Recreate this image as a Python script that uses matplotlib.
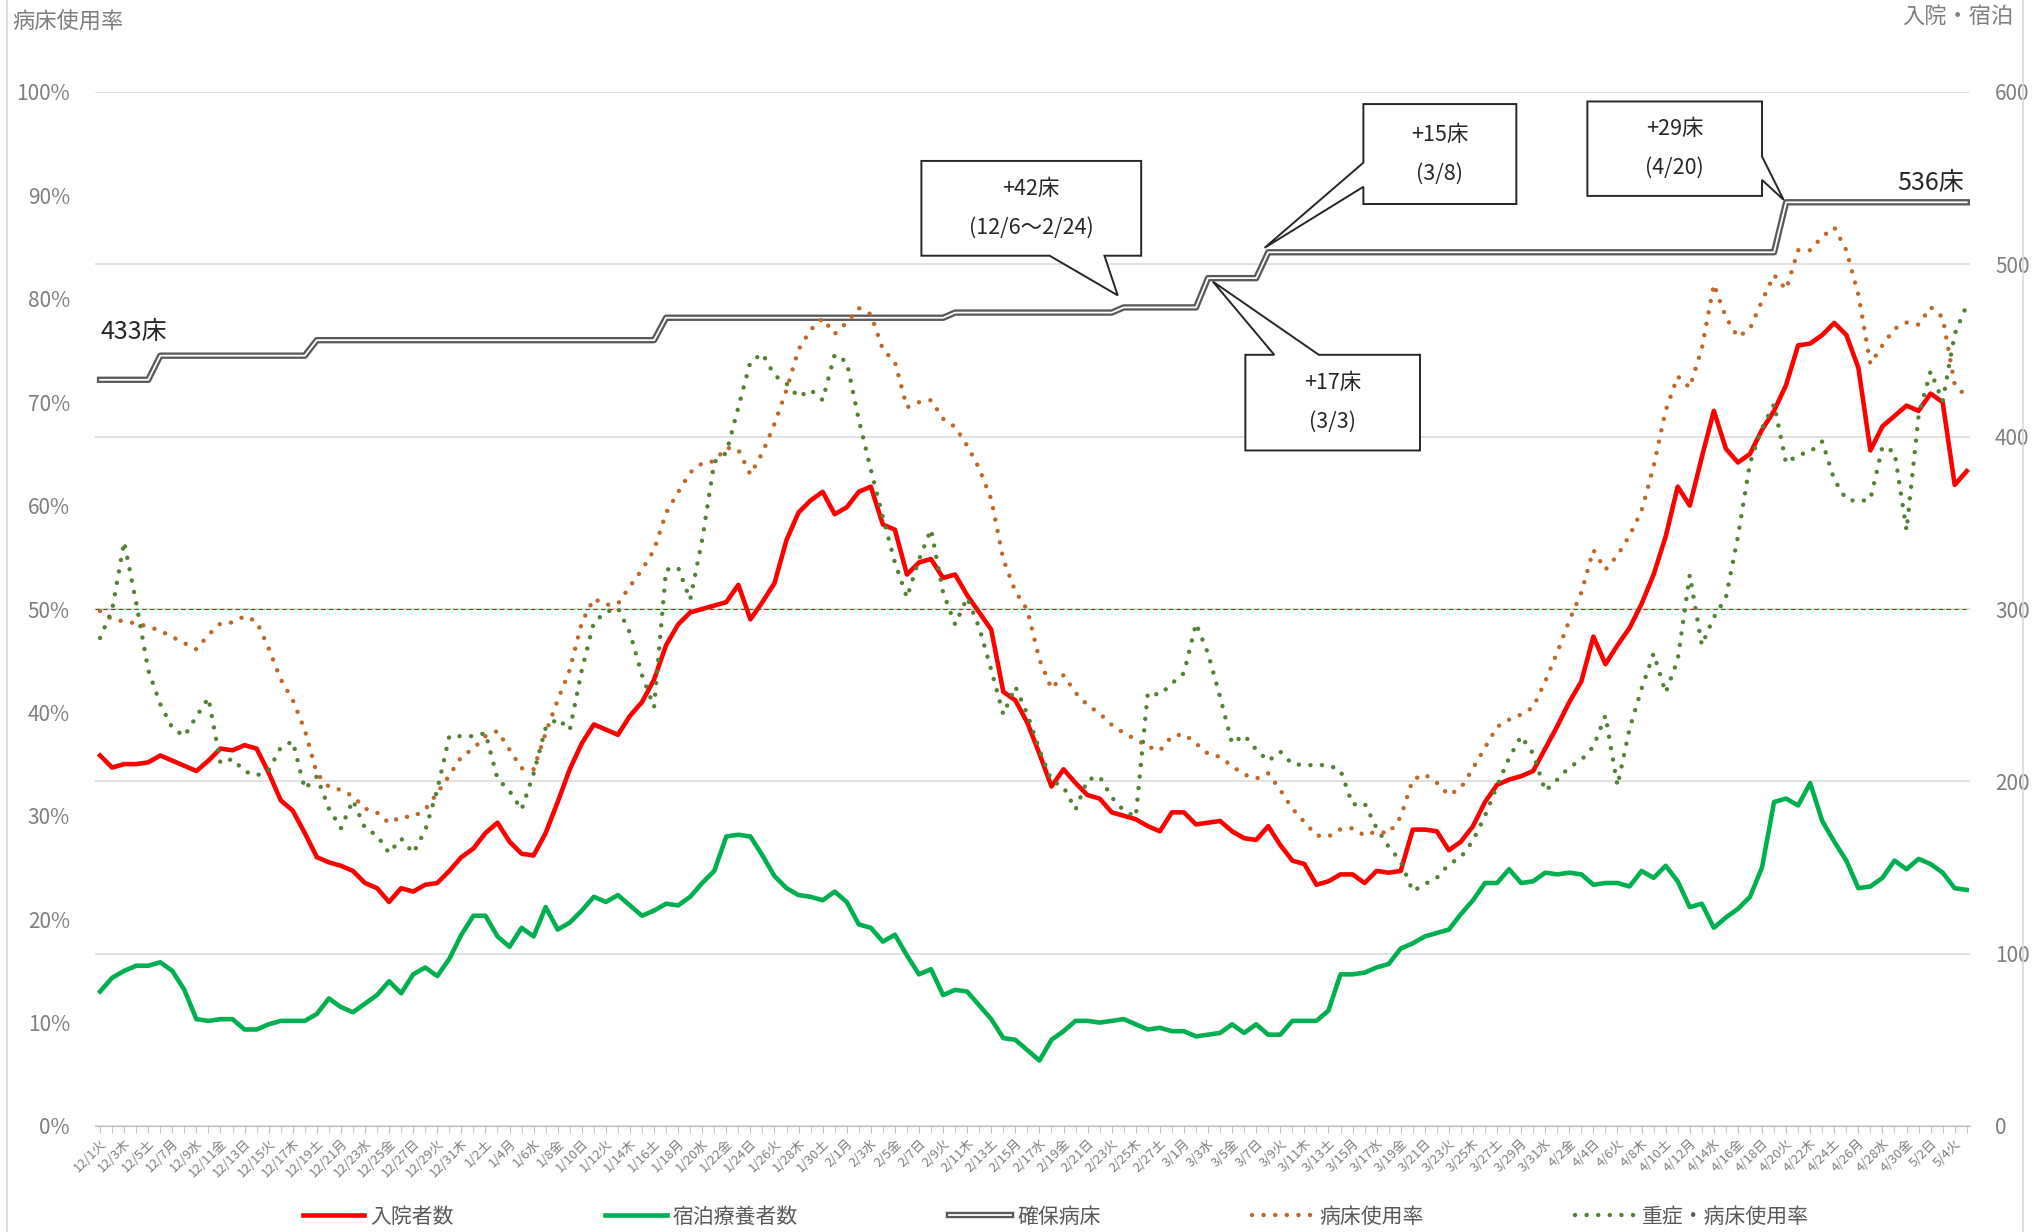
import matplotlib
matplotlib.use('Agg')
import matplotlib.pyplot as plt
import matplotlib.patheffects as pe
from matplotlib.patches import Polygon
from matplotlib.lines import Line2D
import numpy as np
import pandas as pd

plt.rcParams['font.family'] = ['Noto Sans CJK JP', 'DejaVu Sans']

# ---- data -------------------------------------------------------------
dates = pd.date_range('2020-12-01', '2021-05-05', freq='D')
weekdays = ['月', '火', '水', '木', '金', '土', '日']

# 入院者数 (right axis)
inpatients = [
    215, 208, 210, 210, 211, 215, 212, 209, 206, 212, 219, 218, 221, 219, 205, 189,
    183, 170, 156, 153, 151, 148, 141, 138, 130, 138, 136, 140, 141, 148, 156, 161,
    170, 176, 165, 158, 157, 170, 188, 207, 222, 233, 230, 227, 238, 246, 259, 279,
    291, 298, 300, 302, 304, 314, 294, 304, 315, 340, 356, 363, 368, 355, 359, 368,
    371, 349, 346, 320, 327, 329, 318, 320, 308, 298, 288, 252, 247, 234, 216, 197,
    207, 199, 192, 190, 182, 180, 178, 174, 171, 182, 182, 175, 176, 177, 171, 167,
    166, 174, 163, 154, 152, 140, 142, 146, 146, 141, 148, 147, 148, 172, 172, 171,
    160, 165, 174, 188, 198, 201, 203, 206, 219, 232, 246, 258, 284, 268, 279, 289,
    303, 320, 342, 371, 360, 388, 415, 393, 385, 390, 404, 415, 430, 453, 454, 459,
    466, 459, 440, 392, 406, 412, 418, 415, 425, 420, 372, 380]

# 宿泊療養者数 (right axis)
hotel = [
    78, 86, 90, 93, 93, 95, 90, 79, 62, 61, 62, 62, 56, 56, 59, 61,
    61, 61, 65, 74, 69, 66, 71, 76, 84, 77, 88, 92, 87, 97, 111, 122,
    122, 110, 104, 115, 110, 127, 114, 118, 125, 133, 130, 134, 128, 122, 125, 129,
    128, 133, 141, 148, 168, 169, 168, 157, 145, 138, 134, 133, 131, 136, 130, 117,
    115, 107, 111, 99, 88, 91, 76, 79, 78, 70, 62, 51, 50, 44, 38, 50,
    55, 61, 61, 60, 61, 62, 59, 56, 57, 55, 55, 52, 53, 54, 59, 54,
    59, 53, 53, 61, 61, 61, 67, 88, 88, 89, 92, 94, 103, 106, 110, 112,
    114, 123, 131, 141, 141, 149, 141, 142, 147, 146, 147, 146, 140, 141, 141, 139,
    148, 144, 151, 142, 127, 129, 115, 121, 126, 133, 150, 188, 190, 186, 199, 177,
    165, 154, 138, 139, 144, 154, 149, 155, 152, 147, 138, 137]

# 確保病床 (right axis)
beds = ([433] * 5 + [447] * 13 + [456] * 29 + [469] * 24 + [472] * 14
        + [475] * 7 + [492] * 5 + [507] * 43 + [536] * 16)

# 病床使用率 (%)
bed_rate = [
    49.8, 49.0, 48.8, 48.6, 48.3, 47.9, 47.3, 46.7, 46.1, 47.5, 48.6, 48.7, 49.3, 48.8, 46.2, 43.2,
    41.2, 38.3, 34.1, 32.8, 32.5, 31.9, 30.7, 30.3, 29.3, 29.9, 29.9, 30.6, 32.2, 33.9, 35.7, 36.5,
    37.7, 38.2, 36.4, 34.6, 34.5, 38.0, 41.2, 44.1, 48.7, 51.0, 50.4, 50.5, 52.2, 53.8, 55.7, 59.3,
    61.3, 63.2, 64.1, 64.3, 65.6, 65.4, 63.0, 65.1, 67.9, 71.2, 75.1, 77.0, 78.1, 76.6, 77.7, 79.1,
    78.5, 75.1, 73.9, 69.5, 70.0, 70.2, 68.4, 67.6, 65.8, 63.6, 60.6, 54.8, 51.7, 49.9, 45.1, 42.3,
    43.6, 41.9, 40.7, 39.9, 38.8, 38.0, 37.4, 36.7, 36.3, 37.7, 37.9, 37.0, 36.0, 35.7, 34.8, 34.0,
    33.6, 34.1, 32.5, 30.7, 29.4, 28.1, 28.0, 28.7, 28.8, 28.1, 28.5, 28.3, 29.9, 33.5, 34.0, 33.2,
    32.0, 32.7, 34.6, 36.6, 38.6, 39.3, 39.8, 40.5, 43.0, 45.8, 48.9, 51.6, 55.7, 53.8, 55.2, 57.1,
    59.5, 63.8, 69.2, 72.5, 71.4, 75.2, 81.4, 78.2, 76.3, 77.1, 79.8, 82.3, 80.9, 84.7, 84.7, 86.0,
    86.9, 84.7, 80.4, 73.7, 75.5, 77.1, 77.7, 77.5, 79.2, 78.2, 71.7, 70.5]

# 重症・病床使用率 (%)
severe_rate = [
    47.2, 49.9, 56.5, 50.6, 44.1, 40.8, 38.5, 37.7, 39.6, 41.4, 35.1, 35.5, 34.3, 33.9, 34.4, 36.6,
    37.2, 32.6, 33.8, 30.7, 28.8, 31.5, 28.8, 28.1, 26.4, 27.8, 26.4, 28.6, 32.5, 37.7, 37.7, 37.7,
    38.0, 33.6, 32.4, 30.6, 34.1, 38.5, 39.4, 38.3, 44.1, 48.7, 49.7, 50.1, 47.7, 43.6, 40.5, 53.8,
    54.0, 50.9, 56.7, 64.2, 65.1, 69.5, 73.9, 74.7, 72.6, 71.8, 70.5, 71.2, 70.2, 74.6, 73.9, 68.3,
    63.5, 58.9, 54.5, 51.1, 54.8, 57.7, 51.6, 48.5, 51.1, 48.2, 44.1, 39.8, 42.5, 39.8, 36.4, 33.4,
    32.8, 30.6, 33.5, 33.8, 31.8, 30.5, 29.9, 41.9, 41.7, 42.8, 43.8, 48.6, 45.7, 41.5, 37.0, 37.8,
    36.4, 35.3, 36.2, 35.0, 34.9, 34.9, 34.9, 34.4, 31.1, 31.2, 28.8, 27.0, 25.6, 22.7, 23.4, 24.0,
    25.3, 26.0, 27.6, 30.0, 32.9, 35.6, 37.7, 36.0, 32.4, 33.5, 34.7, 35.4, 36.7, 39.7, 32.9, 38.4,
    42.3, 45.7, 41.9, 45.1, 53.3, 46.5, 49.2, 51.1, 57.0, 64.1, 67.5, 69.8, 64.1, 64.9, 65.2, 66.2,
    62.5, 60.6, 60.4, 60.6, 65.7, 65.2, 57.6, 68.7, 73.0, 70.1, 76.6, 79.4]

tick_labels = [f'{d.month}/{d.day}{weekdays[d.weekday()]}' for d in dates]

# ---- figure -------------------------------------------------------------
GRAY = '#7f7f7f'
fig = plt.figure(figsize=(20.39, 12.32), dpi=100)
ax = fig.add_axes([95 / 2039, 1 - 1126 / 1232, 1875 / 2039, 1034 / 1232])
ax2 = ax.twinx()

x = np.arange(len(dates))

# right axis: counts
ax.plot(x, inpatients, color='#ff0000', lw=3.3, label='入院者数', zorder=3)
ax.plot(x, hotel, color='#00b050', lw=3.3, label='宿泊療養者数', zorder=3)
ax.plot(x, beds, color='white', lw=1.3, label='確保病床', zorder=3,
        path_effects=[pe.Stroke(linewidth=4.6, foreground='#595959'), pe.Normal()])

# left axis: percentages
dot = (0, (0.01, 2.6))
ax2.plot(x, bed_rate, color='#c0682a', lw=3.2, ls=dot, dash_capstyle='round',
         label='病床使用率', zorder=4)
ax2.plot(x, severe_rate, color='#548235', lw=3.2, ls=dot, dash_capstyle='round',
         label='重症・病床使用率', zorder=4)
ax2.axhline(50, color='#ff0000', lw=0.8, ls=(0, (4, 3)), zorder=2)

ax.set_xlim(-0.42, len(dates) - 1 + 0.27)
ax.set_ylim(0, 600)
ax2.set_ylim(0, 100)

# y axes
ax.yaxis.set_ticks_position('right')
ax2.yaxis.set_ticks_position('left')
ax.set_yticks(range(0, 601, 100))
ax2.set_yticks(range(0, 101, 10))
ax2.set_yticklabels([f'{v}%' for v in range(0, 101, 10)])
ax.tick_params(axis='y', length=0, pad=18, labelsize=15, labelcolor=GRAY,
               labelright=True, labelleft=False)
ax2.tick_params(axis='y', length=0, pad=18, labelsize=15, labelcolor=GRAY,
                labelleft=True, labelright=False)
ax.grid(axis='y', color='#d9d9d9', lw=1.1)
ax.set_axisbelow(True)

# x axis
ax.set_xticks(x[::2])
ax.set_xticklabels(tick_labels[::2], rotation=45, ha='right',
                   rotation_mode='anchor', fontsize=9.5, color=GRAY)
ax.set_xticks(x[1::2], minor=True)
ax.tick_params(axis='x', which='both', length=5, color='#bfbfbf', pad=3)
for a in (ax, ax2):
    for s in ('top', 'left', 'right'):
        a.spines[s].set_visible(False)
    a.spines['bottom'].set_color('#bfbfbf')

# axis captions
fig.text(12 / 2039, 1 - 22 / 1232, '病床使用率', fontsize=16, color=GRAY, va='center')
fig.text(2013 / 2039, 1 - 16 / 1232, '入院・宿泊', fontsize=16, color=GRAY,
         va='center', ha='right')

# chart border
for xf in (7 / 2039, 2023 / 2039):
    fig.add_artist(Line2D([xf, xf], [0, 1], color='#d9d9d9', lw=1.2))

# bed-count labels
ax.text(0, beds[0] + 28, f'{beds[0]}床', fontsize=18, color='#262626', va='center')
ax.text(x[-1] - 0.2, beds[-1] + 11, f'{beds[-1]}床', fontsize=18, color='#262626',
        va='center', ha='right')


# callouts
def callout(anchor, tip, box, side, base, text):
    ai, av = anchor, beds[anchor]
    tx, ty = ai + tip[0], av + tip[1]
    x0, x1 = ai + box[0], ai + box[1]
    y0, y1 = av + box[2], av + box[3]
    if side == 'bottom':
        b0, b1 = ai + base[0], ai + base[1]
        pts = [(x0, y1), (x1, y1), (x1, y0), (b1, y0), (tx, ty), (b0, y0), (x0, y0)]
    elif side == 'top':
        b0, b1 = ai + base[0], ai + base[1]
        pts = [(x0, y0), (x1, y0), (x1, y1), (b1, y1), (tx, ty), (b0, y1), (x0, y1)]
    elif side == 'left':
        b0, b1 = av + base[0], av + base[1]
        pts = [(x0, y0), (x1, y0), (x1, y1), (x0, y1), (x0, b1), (tx, ty), (x0, b0)]
    else:
        b0, b1 = av + base[0], av + base[1]
        pts = [(x0, y0), (x0, y1), (x1, y1), (x1, b1), (tx, ty), (x1, b0), (x1, y0)]
    ax.add_patch(Polygon(pts, closed=True, facecolor='white', edgecolor='#262626',
                         lw=1.4, zorder=6, clip_on=False))
    ax.text((x0 + x1) / 2, (y0 + y1) / 2, text, ha='center', va='center',
            fontsize=15.5, linespacing=2.0, color='#262626', zorder=7)


def md(i):
    return f'{dates[i].month}/{dates[i].day}'


steps = [i for i in range(1, len(beds)) if beds[i] != beds[i - 1]]
first, s42, s17, s15, s29 = steps[0], steps[4], steps[5], steps[6], steps[7]
callout(s42, (-0.5, 7), (-16.8, 1.45, 30, 85), 'bottom', (-6.15, -1.6),
        f'+{beds[s42] - beds[0]}床\n({md(first)}～{md(s42)})')
callout(s17, (0.4, -2), (3.1, 17.6, -100, -44.5), 'top', (5.5, 9.2),
        f'+{beds[s17] - beds[s17 - 1]}床\n({md(s17)})')
callout(s15, (-0.3, 2.6), (7.9, 20.6, 28, 86), 'left', (38, 52),
        f'+{beds[s15] - beds[s15 - 1]}床\n({md(s15)})')
callout(s29, (-0.2, 1.4), (-16.5, -2.0, 3.7, 58.5), 'right', (13, 26.6),
        f'+{beds[s29] - beds[s29 - 1]}床\n({md(s29)})')

# legend
h1, l1 = ax.get_legend_handles_labels()
h2, l2 = ax2.get_legend_handles_labels()
leg = fig.legend(h1 + h2, l1 + l2, loc='center', bbox_to_anchor=(0.518, 0.0125),
                 ncol=5, frameon=False, fontsize=15, handlelength=2.95,
                 handletextpad=0.3, columnspacing=7.25)
for t in leg.get_texts():
    t.set_color('#595959')

fig.savefig('out.png', dpi=100, facecolor='white')
